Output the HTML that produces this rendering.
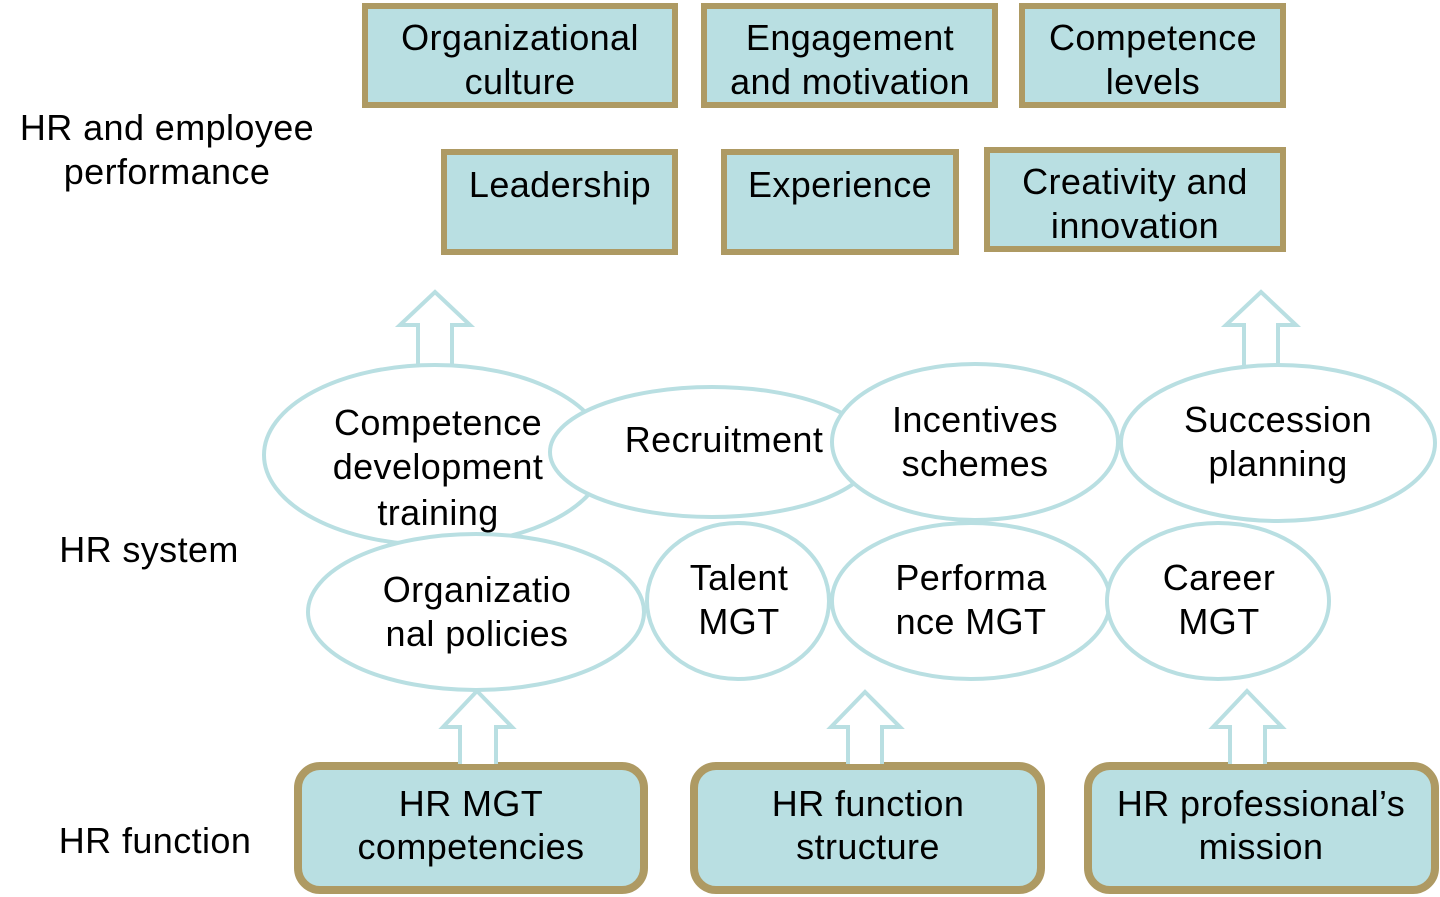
<!DOCTYPE html>
<html><head><meta charset="utf-8"><style>
html,body{margin:0;padding:0;background:#fff}
svg{display:block}
text{font-family:"Liberation Sans",Arial,sans-serif;font-size:36px;letter-spacing:0.4px;fill:#000;text-anchor:middle}
</style></head><body>
<svg width="1440" height="897" viewBox="0 0 1440 897" xmlns="http://www.w3.org/2000/svg">
<g fill="#b9dfe2" stroke="#ae9a63" stroke-width="6">
<rect x="365" y="6" width="310" height="99"/>
<rect x="704" y="6" width="291" height="99"/>
<rect x="1022" y="6" width="261" height="99"/>
<rect x="444" y="152" width="231" height="100"/>
<rect x="724" y="152" width="232" height="100"/>
<rect x="987" y="150" width="296" height="99"/>
</g>
<g fill="#b9dfe2" stroke="#ae9a63" stroke-width="8">
<rect x="298" y="766" width="346" height="124" rx="22"/>
<rect x="694" y="766" width="347" height="124" rx="22"/>
<rect x="1088" y="766" width="347" height="124" rx="22"/>
</g>
<g fill="#fff" stroke="#b9dfe2" stroke-width="4">
<path d="M418,365 V325 H400 L435,292 L470,325 H452 V365"/>
<path d="M1244,365 V325 H1226 L1261,292 L1296,325 H1278 V365"/>
<path d="M460,764 V727 H443 L477,691 L512,727 H496 V764"/>
<path d="M848,764 V727 H831 L865,692 L900,727 H882 V764"/>
<path d="M1230,764 V727 H1213 L1247,691 L1282,727 H1265 V764"/>
<ellipse cx="435" cy="455" rx="171" ry="90"/>
<ellipse cx="476" cy="612" rx="168" ry="78"/>
<ellipse cx="712" cy="452" rx="162" ry="65"/>
<ellipse cx="975" cy="442" rx="143" ry="78"/>
<ellipse cx="1278" cy="443" rx="157" ry="78"/>
<ellipse cx="738" cy="601" rx="91" ry="78"/>
<ellipse cx="971" cy="601" rx="139" ry="78"/>
<ellipse cx="1218" cy="601" rx="111" ry="78"/>
</g>
<text x="167" y="140">HR and employee</text>
<text x="167" y="184">performance</text>
<text x="149" y="562">HR system</text>
<text x="155" y="853">HR function</text>
<text x="520" y="50">Organizational</text>
<text x="520" y="94">culture</text>
<text x="850" y="50">Engagement</text>
<text x="850" y="94">and motivation</text>
<text x="1153" y="50">Competence</text>
<text x="1153" y="94">levels</text>
<text x="560" y="197">Leadership</text>
<text x="840" y="197">Experience</text>
<text x="1135" y="194">Creativity and</text>
<text x="1135" y="238">innovation</text>
<text x="438" y="435">Competence</text>
<text x="438" y="479">development</text>
<text x="438" y="525">training</text>
<text x="724" y="452">Recruitment</text>
<text x="975" y="432">Incentives</text>
<text x="975" y="476">schemes</text>
<text x="1278" y="432">Succession</text>
<text x="1278" y="476">planning</text>
<text x="477" y="602">Organizatio</text>
<text x="477" y="646">nal policies</text>
<text x="739" y="590">Talent</text>
<text x="739" y="634">MGT</text>
<text x="971" y="590">Performa</text>
<text x="971" y="634">nce MGT</text>
<text x="1219" y="590">Career</text>
<text x="1219" y="634">MGT</text>
<text x="471" y="816">HR MGT</text>
<text x="471" y="859">competencies</text>
<text x="868" y="816">HR function</text>
<text x="868" y="859">structure</text>
<text x="1261" y="816">HR professional’s</text>
<text x="1261" y="859">mission</text>
</svg>
</body></html>
